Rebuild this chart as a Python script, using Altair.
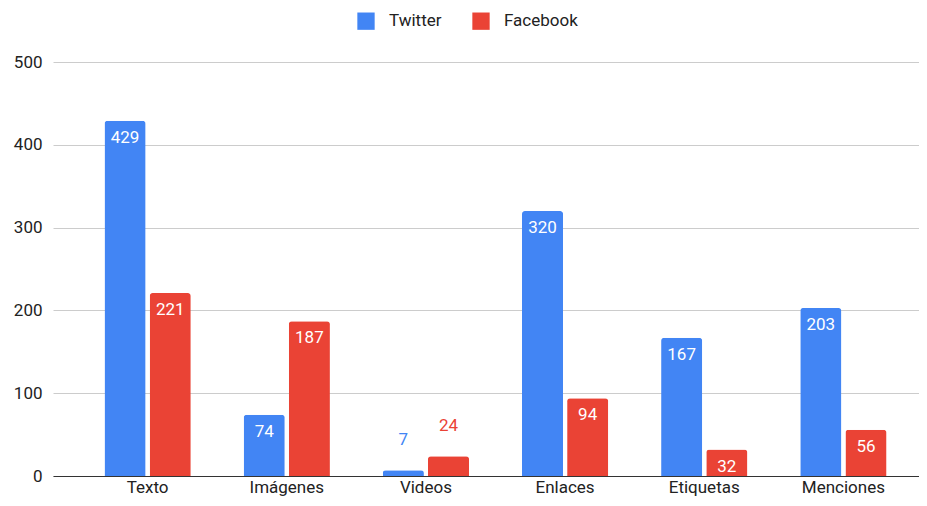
import altair as alt
import pandas as pd

categories = ["Texto", "Imágenes", "Videos", "Enlaces", "Etiquetas", "Menciones"]
twitter = [429, 74, 7, 320, 167, 203]
facebook = [221, 187, 24, 94, 32, 56]
series = ["Twitter", "Facebook"]
colors = ["#4285F4", "#EA4335"]

rows = []
for i, c in enumerate(categories):
    rows.append({"cat": c, "serie": "Twitter", "value": twitter[i]})
    rows.append({"cat": c, "serie": "Facebook", "value": facebook[i]})
df = pd.DataFrame(rows)
df["inside"] = df["value"] >= 30

FONT = "Roboto"

x = alt.X("cat:N", sort=categories, title=None,
          scale=alt.Scale(paddingInner=0.38, paddingOuter=0.37, range=[0, 885]),
          axis=alt.Axis(labelAngle=0, labelFontSize=17, labelColor="#222", labelFont=FONT,
                        domainColor="#333", domainWidth=1.2, ticks=False, labelPadding=3, grid=False))
xo = alt.XOffset("serie:N", sort=series, scale=alt.Scale(paddingInner=0.09))
y = alt.Y("value:Q", title=None,
          scale=alt.Scale(domain=[0, 500]),
          axis=alt.Axis(values=[0, 100, 200, 300, 400, 500], labelFontSize=17, labelColor="#222",
                        labelFont=FONT, domain=False, ticks=False, labelPadding=11,
                        gridColor="#cccccc", gridWidth=1))
color = alt.Color("serie:N", sort=series, scale=alt.Scale(domain=series, range=colors),
                  legend=alt.Legend(orient="none", legendX=304, legendY=-50, direction="horizontal",
                                    title=None, symbolType="square", symbolSize=300,
                                    labelFontSize=17, labelFont=FONT, labelColor="#222",
                                    labelOffset=14, columnPadding=30, symbolStrokeWidth=0))

base = alt.Chart(df)
bars = base.mark_bar(cornerRadiusTopLeft=3, cornerRadiusTopRight=3).encode(x=x, xOffset=xo, y=y, color=color)
inside = base.transform_filter("datum.inside").mark_text(
    baseline="middle", dy=17, fontSize=17, font=FONT, color="white"
).encode(x=x, xOffset=xo, y=y, text="value:Q")
outside = base.transform_filter("!datum.inside").mark_text(
    baseline="middle", dy=-30, fontSize=17, font=FONT
).encode(x=x, xOffset=xo, y=y, text="value:Q",
         color=alt.Color("serie:N", sort=series, scale=alt.Scale(domain=series, range=colors), legend=None))

chart = alt.layer(bars, inside, outside).properties(
    width=866, height=414,
    autosize=alt.AutoSizeParams(type="none"),
    padding={"left": 45, "top": 54, "right": 0, "bottom": 22},
).configure_view(stroke=None)
chart.save("out.html", embed_options={"renderer": "svg", "actions": False})
